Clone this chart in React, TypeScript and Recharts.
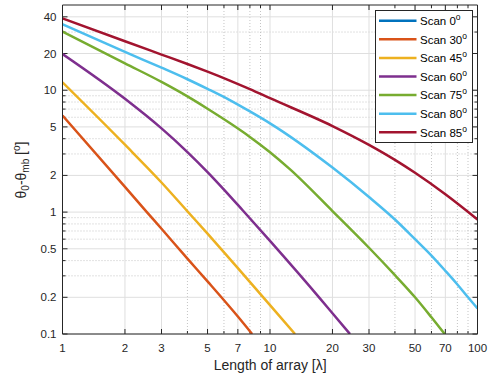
import React from 'react';
import { LineChart, Line, XAxis, YAxis, ReferenceLine } from 'recharts';

// axis ticks (log-log)
const xTicks = [1, 2, 3, 5, 7, 10, 20, 30, 50, 70, 100];
const xMinor = [4, 6, 8, 9, 40, 60, 80, 90];
const yTicks = [0.1, 0.2, 0.5, 1, 2, 5, 10, 20, 40];
const yMinor = [0.3, 0.4, 0.6, 0.7, 0.8, 0.9, 3, 4, 6, 7, 8, 9, 30];

// theta0 - theta_mb [deg] vs array length [lambda]
const len0: number[] = [];
const scan0: number[] = [];
const len30 = [1, 2, 2.55, 3, 4, 5, 7, 8.2];
const scan30 = [6.2, 1.61, 1.0, 0.73, 0.415, 0.27, 0.139, 0.1];
const len45 = [1, 2, 3, 4, 5, 5.86, 7, 10, 13.2];
const scan45 = [11.6, 3.57, 1.75, 1.015, 0.665, 0.49, 0.347, 0.1725, 0.1];
const len60 = [1, 2, 3, 4, 5, 6, 7.4, 10, 17.4, 20, 24.3];
const scan60 = [19.8, 8.5, 4.86, 3.11, 2.13, 1.53, 1.03, 0.58, 0.196, 0.148, 0.1];
const len75 = [1, 2, 3, 4, 5, 6.4, 8, 10, 12.5, 20, 30, 40, 50, 60, 69.5];
const scan75 = [30.2, 16.6, 11.7, 8.9, 7.05, 5.38, 4.14, 3.1, 2.24, 1.02, 0.51, 0.304, 0.2, 0.137, 0.1];
const len80 = [1, 2, 3, 4, 5, 6.4, 8, 10, 20, 30, 40, 50, 60, 70, 80, 90, 100];
const scan80 = [34.8, 20.6, 15.3, 12.3, 10.25, 8.3, 6.7, 5.35, 2.32, 1.33, 0.87, 0.6, 0.44, 0.33, 0.255, 0.2, 0.162];
const len85 = [1, 2, 3, 4, 5, 6.4, 8, 10, 20, 30, 40, 50, 70, 100];
const scan85 = [38.8, 25.2, 19.6, 16.4, 14.2, 12.0, 10.2, 8.6, 5.08, 3.56, 2.68, 2.1, 1.4, 0.87];

const names = ['Scan 0', 'Scan 30', 'Scan 45', 'Scan 60', 'Scan 75', 'Scan 80', 'Scan 85'];
const colors = ['#0072BD', '#D95319', '#EDB120', '#7E2F8E', '#77AC30', '#4DBEEE', '#A2142F'];
const lengths = [len0, len30, len45, len60, len75, len80, len85];
const values = [scan0, scan30, scan45, scan60, scan75, scan80, scan85];

const series = values.map((vals, i) => vals.map((v, j) => ({ L: lengths[i][j], v })));

const AX = '#262626';
const FONT = '"Liberation Sans", Arial, Helvetica, sans-serif';

// grid line + inward ticks on both sides (matlab style box)
const gridShape = (dir: 'x' | 'y', major: boolean, frame = false) => (p: any) => {
  const len = major ? 5 : 3;
  const x1 = Math.min(p.x1, p.x2), x2 = Math.max(p.x1, p.x2);
  const y1 = Math.min(p.y1, p.y2), y2 = Math.max(p.y1, p.y2);
  const g = frame
    ? { stroke: AX, strokeWidth: 1 }
    : major
    ? { stroke: '#dfdfdf', strokeWidth: 1 }
    : { stroke: '#c4c4c4', strokeWidth: 1, strokeDasharray: '1 2' };
  if (dir === 'y') {
    return (
      <g>
        <line x1={x1} x2={x2} y1={p.y1} y2={p.y1} {...g} />
        {!frame && <line x1={x1} x2={x1 + len} y1={p.y1} y2={p.y1} stroke={AX} />}
        {!frame && <line x1={x2 - len} x2={x2} y1={p.y1} y2={p.y1} stroke={AX} />}
      </g>
    );
  }
  return (
    <g>
      <line x1={p.x1} x2={p.x1} y1={y1} y2={y2} {...g} />
      {!frame && <line x1={p.x1} x2={p.x1} y1={y2 - len} y2={y2} stroke={AX} />}
      {!frame && <line x1={p.x1} x2={p.x1} y1={y1} y2={y1 + len} stroke={AX} />}
    </g>
  );
};

export default function App() {
  return (
    <div style={{ position: 'absolute', left: 0, top: 0, width: 496, height: 380, background: '#fff', fontFamily: FONT }}>
      <LineChart width={496} height={380} margin={{ top: 5, right: 18.5, bottom: 16, left: 12.5 }}>
        <XAxis
          dataKey="L"
          type="number"
          scale="log"
          domain={[1, 100]}
          ticks={xTicks}
          allowDataOverflow
          height={30}
          axisLine={false}
          tickLine={false}
          tickSize={0}
          tickMargin={10}
          tick={{ fontSize: 11.5, fill: AX, fontFamily: FONT }}
        />
        <YAxis
          type="number"
          scale="log"
          domain={[0.1, 50]}
          ticks={yTicks}
          allowDataOverflow
          width={50}
          axisLine={false}
          tickLine={false}
          tickSize={0}
          tickMargin={6}
          tick={{ fontSize: 11.5, fill: AX, fontFamily: FONT }}
        />
        {yMinor.map((v) => (
          <ReferenceLine key={'ym' + v} y={v} shape={gridShape('y', false)} />
        ))}
        {xMinor.map((v) => (
          <ReferenceLine key={'xm' + v} x={v} shape={gridShape('x', false)} />
        ))}
        {yTicks.map((v) => (
          <ReferenceLine key={'yM' + v} y={v} shape={gridShape('y', true)} />
        ))}
        {xTicks.map((v) => (
          <ReferenceLine key={'xM' + v} x={v} shape={gridShape('x', true)} />
        ))}
        {series.map((d, i) => (
          <Line
            key={names[i]}
            data={d}
            dataKey="v"
            name={names[i]}
            type="monotone"
            stroke={colors[i]}
            strokeWidth={2.5}
            dot={false}
            isAnimationActive={false}
          />
        ))}
        <ReferenceLine y={0.1} shape={gridShape('y', true, true)} />
        <ReferenceLine y={50} shape={gridShape('y', true, true)} />
        <ReferenceLine x={1} shape={gridShape('x', true, true)} />
        <ReferenceLine x={100} shape={gridShape('x', true, true)} />
      </LineChart>
      <svg width={496} height={380} style={{ position: 'absolute', left: 0, top: 0, pointerEvents: 'none' }}>
        <text x={270.2} y={369.5} textAnchor="middle" fontSize={14} fill={AX} fontFamily={FONT}>
          Length of array [λ]
        </text>
        <text transform="translate(25.5,170) rotate(-90)" textAnchor="middle" fontSize={14} fill={AX} fontFamily={FONT}>
          <tspan>θ</tspan>
          <tspan dy={3.5} fontSize={10}>0</tspan>
          <tspan dy={-3.5}>-θ</tspan>
          <tspan dy={3.5} fontSize={10}>mb</tspan>
          <tspan dy={-3.5}> [</tspan>
          <tspan dy={-5.5} fontSize={10}>o</tspan>
          <tspan dy={5.5}>]</tspan>
        </text>
        <rect x={375.5} y={10.5} width={97} height={132} fill="#fff" stroke={AX} strokeWidth={1} />
        {names.map((n, i) => {
          const cy = 20.7 + i * 18.6;
          return (
            <g key={n}>
              <line x1={379} x2={416.5} y1={cy} y2={cy} stroke={colors[i]} strokeWidth={2.5} />
              <text x={420} y={cy + 4.2} fontSize={11.5} fill="#000" fontFamily={FONT}>
                <tspan>{n}</tspan>
                <tspan dy={-5} fontSize={8.5}>o</tspan>
              </text>
            </g>
          );
        })}
      </svg>
    </div>
  );
}
